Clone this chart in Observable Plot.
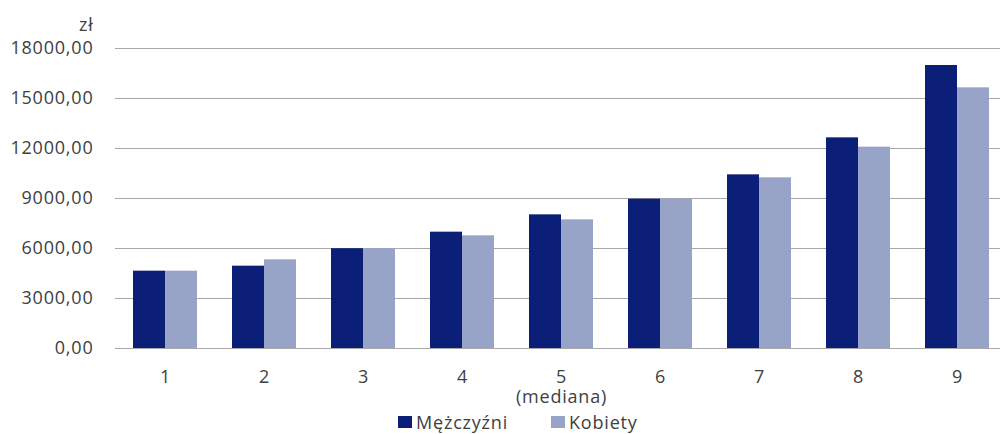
<!DOCTYPE html>
<html>
<head>
<meta charset="utf-8">
<script src="https://cdn.jsdelivr.net/npm/d3@7"></script>
<script src="https://cdn.jsdelivr.net/npm/@observablehq/plot@0.6"></script>
<style>
  html, body { margin: 0; padding: 0; background: #fff; overflow: hidden; }
  body { width: 1000px; height: 434px; font-family: "Open Sans", sans-serif; }
  #legend { display: flex; align-items: center; height: 25px; padding-top: 1px; margin-left: 398px; font-size: 18px; color: #404040; letter-spacing: 0.8px; }
  #legend .item { display: flex; align-items: center; margin-right: 43px; }
  #legend .sw { width: 14px; height: 12px; margin-right: 4px; display: inline-block; }
</style>
</head>
<body>
<div id="chart"></div>
<div id="legend"></div>
<script>
const groups = ["1", "2", "3", "4", "5", "6", "7", "8", "9"];
const men = [4640, 4940, 5990, 6980, 8020, 8960, 10420, 12640, 16980];
const women = [4640, 5320, 5990, 6760, 7720, 8960, 10240, 12080, 15640];
const seriesNames = ["Mężczyźni", "Kobiety"];
const seriesColors = ["#0b1f78", "#98a3c8"];
const yTicks = [0, 3000, 6000, 9000, 12000, 15000, 18000];
const unitLabel = "zł";

const menData = groups.map((g, i) => ({group: g, value: men[i]}));
const womenData = groups.map((g, i) => ({group: g, value: women[i]}));

const fmt = d => d.toFixed(2).replace(".", ",");

const plot = Plot.plot({
  width: 1000,
  height: 408,
  marginTop: 48,
  marginBottom: 60,
  marginLeft: 122,
  marginRight: 0,
  style: {fontFamily: "Open Sans, sans-serif", fontSize: "18px", color: "#404040", letterSpacing: "0.8px"},
  x: {domain: groups, paddingInner: 0.35, paddingOuter: 0.109, label: null},
  y: {domain: [0, 18000], label: null},
  marks: [
    Plot.ruleY(yTicks, {stroke: "#a8a8a8", strokeWidth: 1.2, insetLeft: -7}),
    Plot.barY(menData, {x: "group", y: "value", fill: seriesColors[0], insetRight: 32}),
    Plot.barY(womenData, {x: "group", y: "value", fill: seriesColors[1], insetLeft: 32}),
    Plot.axisY(yTicks, {tickSize: 0, tickPadding: 29, tickFormat: fmt, label: null, fill: "#404040"}),
    Plot.axisX({tickSize: 0, tickPadding: 20, label: null, fill: "#404040", lineHeight: 1.13,
      tickFormat: d => d === "5" ? "5\n(mediana)" : d}),
    Plot.text([unitLabel], {frameAnchor: "top-left", lineAnchor: "middle", dx: -29, dy: -23, textAnchor: "end", fill: "#404040", fontSize: 18})
  ]
});
document.getElementById("chart").appendChild(plot);

const legend = document.getElementById("legend");
seriesNames.forEach((name, i) => {
  const item = document.createElement("span");
  item.className = "item";
  const sw = document.createElement("span");
  sw.className = "sw";
  sw.style.background = seriesColors[i];
  item.appendChild(sw);
  item.appendChild(document.createTextNode(name));
  legend.appendChild(item);
});
</script>
</body>
</html>
